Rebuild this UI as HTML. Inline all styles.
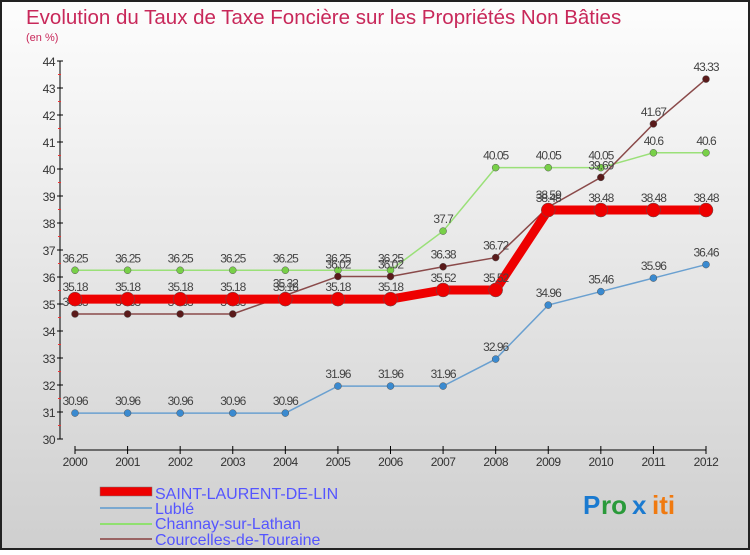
<!DOCTYPE html>
<html><head><meta charset="utf-8"><style>
body{margin:0;width:750px;height:550px;overflow:hidden;font-family:"Liberation Sans",sans-serif}
</style></head><body>
<svg id="c" width="750" height="550" xmlns="http://www.w3.org/2000/svg">
<defs><linearGradient id="bg" x1="0" y1="0" x2="0" y2="1"><stop offset="0" stop-color="#fdfdfd"/><stop offset="1" stop-color="#cfcfcf"/></linearGradient></defs>
<rect x="1" y="1" width="748" height="548" fill="url(#bg)" stroke="#222" stroke-width="2"/>
<text x="26" y="24" font-size="20.5" fill="#c8285a" font-weight="300">Evolution du Taux de Taxe Foncière sur les Propriétés Non Bâties</text>
<text x="26" y="41" font-size="11" fill="#c8285a">(en %)</text>
<g id="axes"></g><g id="series"></g>
<g>
<rect x="100" y="487" width="52" height="9" fill="#e00" stroke="#777" stroke-width="0.5"/>
<text x="155" y="499" font-size="16" fill="#55f">SAINT-LAURENT-DE-LIN</text>
<line x1="100" y1="508" x2="152" y2="508" stroke="#7aa8d0" stroke-width="2"/>
<text x="155" y="514" font-size="16" fill="#55f">Lublé</text>
<line x1="100" y1="524" x2="152" y2="524" stroke="#90e070" stroke-width="2"/>
<text x="155" y="529" font-size="16" fill="#55f">Channay-sur-Lathan</text>
<line x1="100" y1="539" x2="152" y2="539" stroke="#9a6464" stroke-width="2"/>
<text x="155" y="545" font-size="16" fill="#55f">Courcelles-de-Touraine</text>
</g>
<g font-size="26" font-weight="bold">
<text x="583" y="514" fill="#1a7ad0">P</text><text x="601" y="514" fill="#2a9a3a">ro</text><text x="632" y="514" fill="#1a7ad0">x</text><text x="652" y="514" fill="#f07a10">iti</text>
</g>
</svg>
<script>
const years=[2000,2001,2002,2003,2004,2005,2006,2007,2008,2009,2010,2011,2012];
const yTicks=[30,31,32,33,34,35,36,37,38,39,40,41,42,43,44];
const saintLaurent=[35.18,35.18,35.18,35.18,35.18,35.18,35.18,35.52,35.52,38.48,38.48,38.48,38.48];
const luble=[30.96,30.96,30.96,30.96,30.96,31.96,31.96,31.96,32.96,34.96,35.46,35.96,36.46];
const channay=[36.25,36.25,36.25,36.25,36.25,36.25,36.25,37.7,40.05,40.05,40.05,40.6,40.6];
const courcelles=[34.63,34.63,34.63,34.63,35.32,36.02,36.02,36.38,36.72,38.59,39.69,41.67,43.33];
const NS="http://www.w3.org/2000/svg";
const X=i=>75+i*(706-75)/12, Y=v=>439-(v-30)*27;
function mk(p,t,a){const e=document.createElementNS(NS,t);for(const k in a)e.setAttribute(k,a[k]);p.appendChild(e);return e;}
const ax=document.getElementById('axes'), sg=document.getElementById('series');
let e=mk(ax,'line',{x1:60,y1:Y(44),x2:60,y2:Y(30),stroke:'#000'});


e=mk(ax,'line',{x1:75,y1:450,x2:706,y2:450,stroke:'#000'});


yTicks.forEach(v=>{mk(ax,'line',{x1:57,y1:Y(v),x2:63,y2:Y(v),stroke:'#000'});
 if(v<44)mk(ax,'line',{x1:58,y1:Y(v+0.5),x2:61,y2:Y(v+0.5),stroke:'#e33'});
 const t=mk(ax,'text',{x:55,y:Y(v)+5,'font-size':12,'text-anchor':'end',fill:'#333','letter-spacing':'-0.5'});t.textContent=v;
 
 });
years.forEach((y,i)=>{mk(ax,'line',{x1:X(i),y1:446,x2:X(i),y2:454,stroke:'#000'});
 const t=mk(ax,'text',{x:X(i),y:466,'font-size':12,'text-anchor':'middle',fill:'#333','letter-spacing':'-0.5'});t.textContent=y;
 
 });
function series(d,name,col,w,r,mcol){
 const g=mk(sg,'g',{});
 
 
 mk(g,'polyline',{points:d.map((v,i)=>X(i)+','+Y(v)).join(' '),fill:'none',stroke:col,'stroke-width':w});
 d.forEach((v,i)=>{const c=mk(g,'circle',{cx:X(i),cy:Y(v),r:r,fill:mcol,stroke:'#555','stroke-width':0.5});
  
  
  const t=mk(g,'text',{x:X(i),y:Y(v)-8,'font-size':12,'text-anchor':'middle',fill:'#444','letter-spacing':'-1'});t.textContent=v;
  
  });
}
series(luble,'luble','#6aa0d0',1.5,3.5,'#3a8ad0');
series(channay,'channay','#9ae078',1.5,3.5,'#78d048');
series(courcelles,'courcelles','#8a4a4a',1.5,3.5,'#5a1a1a');
series(saintLaurent,'saint-laurent','#e00',9,7,'#e00');
</script>
</body></html>
